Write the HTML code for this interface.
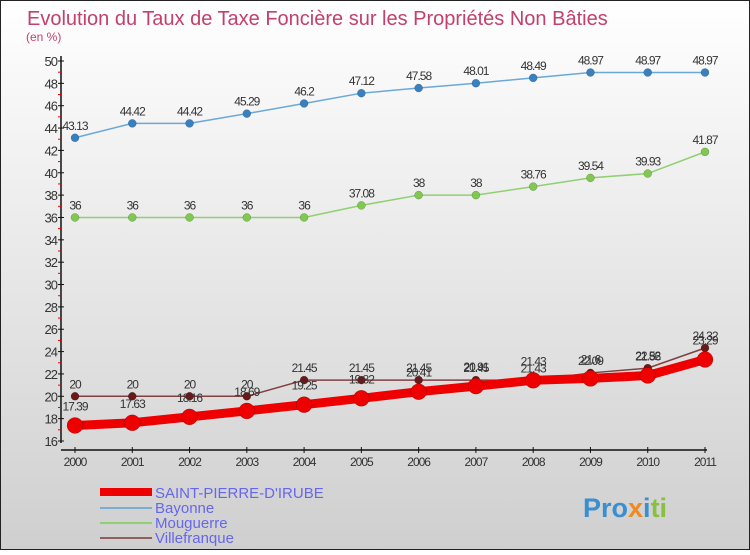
<!DOCTYPE html>
<html><head><meta charset="utf-8"><style>
body{margin:0;}
svg text{font-family:"Liberation Sans",sans-serif;}
</style></head><body>
<svg width="750" height="550" xmlns="http://www.w3.org/2000/svg">
<defs><linearGradient id="bg" x1="0" y1="0" x2="0" y2="1"><stop offset="0" stop-color="#ffffff"/><stop offset="1" stop-color="#cfcfcf"/></linearGradient></defs>
<rect x="0.5" y="0.5" width="749" height="549" fill="url(#bg)" stroke="#222"/>
<text x="27" y="25" font-size="20" fill="#c4406a">Evolution du Taux de Taxe Foncière sur les Propriétés Non Bâties</text>
<text x="26" y="41" font-size="12" fill="#c4406a">(en %)</text>
<g id="axes"></g>
<g id="series"></g>
<g>
<rect x="100" y="488" width="52" height="8" fill="#ee0000"/>
<text x="155" y="498" font-size="15" fill="#6666ee">SAINT-PIERRE-D'IRUBE</text>
<rect x="100" y="507" width="52" height="2" fill="#7aaed0"/>
<text x="155" y="513" font-size="15" fill="#6666ee">Bayonne</text>
<rect x="100" y="522" width="52" height="2" fill="#90d070"/>
<text x="155" y="528" font-size="15" fill="#6666ee">Mouguerre</text>
<rect x="100" y="537" width="52" height="2" fill="#906060"/>
<text x="155" y="543" font-size="15" fill="#6666ee">Villefranque</text>
</g>
<text x="583" y="517" font-size="27" font-weight="bold"><tspan fill="#3a8fd0">Pro</tspan><tspan fill="#f08a20">x</tspan><tspan fill="#3a8fd0">i</tspan><tspan fill="#88c040">ti</tspan></text>
</svg>
<script>
const years=[2000,2001,2002,2003,2004,2005,2006,2007,2008,2009,2010,2011];
const yTicks=[16,18,20,22,24,26,28,30,32,34,36,38,40,42,44,46,48,50];
const saintPierre=[17.39,17.63,18.16,18.69,19.25,19.82,20.41,20.91,21.43,21.6,21.86,23.29];
const bayonne=[43.13,44.42,44.42,45.29,46.2,47.12,47.58,48.01,48.49,48.97,48.97,48.97];
const mouguerre=[36,36,36,36,36,37.08,38,38,38.76,39.54,39.93,41.87];
const villefranque=[20,20,20,20,21.45,21.45,21.45,21.45,21.43,22.09,22.52,24.32];
const NS="http://www.w3.org/2000/svg";
const X=i=>75+i*(630/11);
const Y=v=>441-(v-16)*(380/34);
function mk(t,a,p){const e=document.createElementNS(NS,t);for(const k in a)e.setAttribute(k,a[k]);p.appendChild(e);return e;}
const ax=document.getElementById('axes');
let l=mk('line',{x1:61,y1:56,x2:61,y2:443,stroke:'#111','stroke-width':1.5},ax);


l=mk('line',{x1:61,y1:450,x2:707,y2:450,stroke:'#111','stroke-width':1.5},ax);


yTicks.forEach(v=>{
 mk('line',{x1:58,y1:Y(v),x2:64,y2:Y(v),stroke:'#111'},ax);
 if(v<50) mk('line',{x1:58,y1:Y(v+1),x2:62,y2:Y(v+1),stroke:'#e00'},ax);
 const t=mk('text',{x:57,y:Y(v)+5,'font-size':13,'text-anchor':'end',fill:'#333','letter-spacing':'-1'},ax);
 t.textContent=v;
 
 
});
years.forEach((yr,i)=>{
 mk('line',{x1:X(i),y1:447,x2:X(i),y2:453,stroke:'#111'},ax);
 const t=mk('text',{x:X(i),y:466,'font-size':12,'text-anchor':'middle',fill:'#333','letter-spacing':'-1'},ax);
 t.textContent=yr;
 
 
});
const sg=document.getElementById('series');
function series(vals,name,color,w,r,dot,labOff){
 const g=mk('g',{},sg);
 
 
 mk('polyline',{points:vals.map((v,i)=>X(i)+','+Y(v)).join(' '),fill:'none',stroke:color,'stroke-width':w,'stroke-linejoin':'round'},g);
 vals.forEach((v,i)=>{
  const c=mk('circle',{cx:X(i),cy:Y(v),r:r,fill:dot,stroke:'rgba(0,0,0,0.3)','stroke-width':0.5},g);
  
  
  const t=mk('text',{x:X(i),y:Y(v)+labOff,'font-size':12,'text-anchor':'middle',fill:'#333','letter-spacing':'-1'},g);
  t.textContent=v;
  
  
 });
}
series(bayonne,'bayonne','#6aa8d8',1.5,4,'#3a80c0',-8);
series(mouguerre,'mouguerre','#90d070',1.5,4,'#80c850',-8);
series(villefranque,'villefranque','#804040',1.5,4,'#6a1818',-8);
series(saintPierre,'saint-pierre','#ee0000',9,8,'#ee0000',-15);
</script>
</body></html>
